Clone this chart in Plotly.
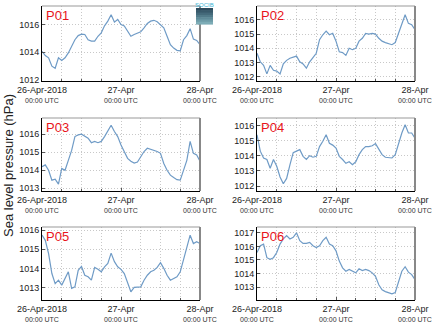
import plotly.graph_objects as go
import pandas as pd

hours = pd.date_range("2018-04-26 00:00", "2018-04-28 00:00", freq="1h")

p01 = [1014.07, 1013.76, 1013.6, 1013.0, 1012.85, 1013.6, 1013.4, 1013.6, 1013.95, 1014.43,
       1014.9, 1015.2, 1015.3, 1015.28, 1014.9, 1014.8, 1014.8, 1015.15, 1015.4, 1015.9,
       1016.24, 1016.7, 1016.17, 1016.36, 1016.0, 1015.9, 1015.5, 1015.15, 1015.28, 1015.4,
       1015.47, 1015.76, 1016.07, 1016.24, 1016.3, 1016.2, 1016.0, 1015.76, 1015.15, 1014.55,
       1014.3, 1014.14, 1014.1, 1014.9, 1015.2, 1015.7, 1014.95, 1014.85, 1014.55]
p02 = [1013.65, 1013.05, 1012.8, 1012.2, 1012.8, 1012.45, 1012.4, 1012.2, 1012.9, 1013.15,
       1013.3, 1013.35, 1013.45, 1013.05, 1012.9, 1012.6, 1013.05, 1013.35, 1013.65, 1014.6,
       1014.95, 1015.2, 1014.95, 1015.05, 1014.5, 1013.75, 1013.7, 1013.5, 1014.0, 1013.9,
       1014.0, 1014.5, 1014.7, 1015.05, 1015.0, 1015.05, 1015.0, 1014.7, 1014.5, 1014.4,
       1014.3, 1014.25, 1014.4, 1015.05, 1015.65, 1016.35, 1015.75, 1015.65, 1015.3]
p03 = [1014.2, 1014.3, 1014.0, 1013.45, 1013.5, 1013.23, 1014.1, 1014.0, 1014.55, 1015.1,
       1015.87, 1015.96, 1016.0, 1015.9, 1015.78, 1015.53, 1015.6, 1015.53, 1015.6, 1015.87,
       1016.15, 1016.5, 1016.15, 1015.87, 1015.4, 1015.04, 1014.66, 1014.5, 1014.4, 1014.46,
       1014.75, 1015.04, 1015.22, 1015.17, 1015.1, 1015.04, 1014.94, 1014.38, 1014.0, 1013.73,
       1013.6, 1013.48, 1013.45, 1014.0, 1014.55, 1015.6, 1014.94, 1014.85, 1014.5]
p04 = [1015.38, 1014.3, 1013.85, 1013.75, 1013.17, 1013.75, 1013.3, 1012.6, 1012.15, 1012.5,
       1013.4, 1014.2, 1014.3, 1014.4, 1013.96, 1013.75, 1014.0, 1013.9, 1013.96, 1014.6,
       1014.95, 1015.38, 1014.82, 1014.7, 1014.5, 1013.96, 1013.75, 1013.5, 1013.6, 1013.4,
       1013.6, 1014.07, 1014.4, 1014.6, 1014.6, 1014.66, 1014.8, 1014.4, 1014.07, 1013.9,
       1013.85, 1013.85, 1014.07, 1014.82, 1015.5, 1016.05, 1015.5, 1015.5, 1015.15]
p05 = [1015.75, 1015.47, 1014.77, 1013.73, 1013.2, 1013.38, 1013.12, 1013.47, 1013.82, 1012.95,
       1013.03, 1013.9, 1014.1, 1013.64, 1013.56, 1013.38, 1014.05, 1013.95, 1013.82, 1014.08,
       1014.26, 1014.8, 1014.35, 1014.08, 1013.95, 1013.73, 1013.2, 1012.77, 1013.0, 1013.03,
       1013.03, 1013.38, 1013.64, 1013.82, 1013.9, 1014.05, 1014.3, 1014.0, 1013.64, 1013.38,
       1013.47, 1013.56, 1013.82, 1014.5, 1015.03, 1015.74, 1015.3, 1015.4, 1015.3]
p06 = [1015.55, 1016.05, 1016.17, 1015.17, 1015.05, 1015.17, 1015.55, 1016.17, 1016.55, 1016.8,
       1016.55, 1016.67, 1017.0, 1016.42, 1016.22, 1016.22, 1016.3, 1016.05, 1015.92, 1016.05,
       1016.42, 1016.67, 1016.17, 1016.05, 1015.67, 1014.92, 1014.42, 1014.17, 1014.3, 1014.17,
       1014.05, 1014.35, 1014.22, 1014.3, 1014.22, 1014.05, 1013.8, 1013.17, 1012.8, 1012.67,
       1012.6, 1012.5, 1012.6, 1013.42, 1014.17, 1014.5, 1014.1, 1013.92, 1013.55]

series = [p01, p02, p03, p04, p05, p06]
names = ["P01", "P02", "P03", "P04", "P05", "P06"]
y_ranges = [[1011.93, 1017.33], [1011.7, 1016.97], [1012.85, 1016.9],
            [1011.67, 1016.49], [1012.34, 1016.17], [1012.05, 1017.43]]
y_dticks = [2, 1, 1, 1, 1, 1]

x_tickvals = ["2018-04-26 00:00", "2018-04-27 00:00", "2018-04-28 00:00"]
x_ticklabels = ["26-Apr-2018", "27-Apr", "28-Apr"]
x_sub = "00:00 UTC"

W, H = 435, 327
col_px = [(42, 200), (257, 415)]
row_px = [(6, 81), (118, 191), (227, 300)]

FONT = "Liberation Sans, Arial, sans-serif"
GRID = "#c8c8c8"
fig = go.Figure()
layout = dict(width=W, height=H, margin=dict(l=0, r=0, t=0, b=0, autoexpand=False),
              paper_bgcolor="white", plot_bgcolor="white", showlegend=False,
              font=dict(family=FONT, size=9, color="#222"))
shapes, annotations = [], []

for i, (ys, nm) in enumerate(zip(series, names)):
    r, c = divmod(i, 2)
    n = i + 1
    xa = "x" if n == 1 else f"x{n}"
    ya = "y" if n == 1 else f"y{n}"
    fig.add_trace(go.Scatter(x=hours, y=ys, mode="lines", xaxis=xa, yaxis=ya,
                             line=dict(color="#6f9bc6", width=1.2)))
    x0, x1 = col_px[c]
    t0, t1 = row_px[r]
    layout["xaxis" if n == 1 else f"xaxis{n}"] = dict(
        domain=[x0 / W, x1 / W], anchor=ya, type="date", automargin=False,
        range=["2018-04-26 00:00", "2018-04-28 00:00"],
        tickvals=x_tickvals,
        ticktext=[f"<span style='font-size:9px;color:#222'>{t}</span><br>{x_sub}" for t in x_ticklabels],
        tickfont=dict(size=7, color="#333"), tickangle=0, ticklabelstandoff=3,
        showline=True, linecolor="black", linewidth=1,
        ticks="inside", ticklen=3, tickcolor="#555",
        showgrid=True, gridcolor=GRID, griddash="1px,2px", gridwidth=1,
        minor=dict(dtick=6 * 3600 * 1000, showgrid=True, gridcolor=GRID,
                   griddash="1px,2px", ticks="inside", ticklen=2, tickcolor="#555"),
        zeroline=False, fixedrange=True)
    layout["yaxis" if n == 1 else f"yaxis{n}"] = dict(
        domain=[1 - t1 / H, 1 - t0 / H], anchor=xa, range=y_ranges[i], automargin=False,
        dtick=y_dticks[i], tick0=1012, tickformat="d",
        tickfont=dict(size=9, color="#222"),
        showline=True, linecolor="black", linewidth=1,
        ticks="inside", ticklen=3, tickcolor="#555",
        showgrid=True, gridcolor=GRID, griddash="1px,2px", gridwidth=1,
        zeroline=False, fixedrange=True)
    xd, yd = f"{xa} domain", f"{ya} domain"
    shapes.append(dict(type="line", xref=xd, yref=yd, x0=0, x1=1, y0=1, y1=1,
                       line=dict(color="#999", width=1)))
    shapes.append(dict(type="line", xref=xd, yref=yd, x0=1, x1=1, y0=0, y1=1,
                       line=dict(color="#888", width=2)))
    annotations.append(dict(text=nm, xref=xd, yref=yd, x=0.01, y=1.0,
                            xanchor="left", yanchor="top", showarrow=False,
                            font=dict(size=13, color="#e8141b", family=FONT)))

annotations.append(dict(text="Sea level pressure (hPa)", xref="paper", yref="paper",
                        x=8 / W, y=1 - 166 / H, textangle=-90, showarrow=False,
                        xanchor="center", yanchor="middle",
                        font=dict(size=13, color="#222", family=FONT)))

# logo
steps = ["#2c4a5c", "#385a6b", "#44697a", "#517a89", "#5e8a98", "#6d9ba7", "#7dacb6"]
lx0, lx1, ly0, ly1 = 196, 213, 8, 24
hstep = (ly1 - ly0) / len(steps)
for k, col in enumerate(steps):
    shapes.append(dict(type="rect", xref="paper", yref="paper",
                       x0=lx0 / W, x1=lx1 / W,
                       y0=1 - (ly0 + (k + 1) * hstep + 0.6) / H, y1=1 - (ly0 + k * hstep) / H,
                       fillcolor=col, line=dict(width=0)))
annotations.append(dict(text="SOCIB", xref="paper", yref="paper", x=204.5 / W, y=1 - 0 / H,
                        xanchor="center", yanchor="top", showarrow=False,
                        font=dict(size=6, color="#3ab4d4", family=FONT)))

layout["shapes"] = shapes
layout["annotations"] = annotations
fig.update_layout(**layout)
fig.write_html("out.html")
